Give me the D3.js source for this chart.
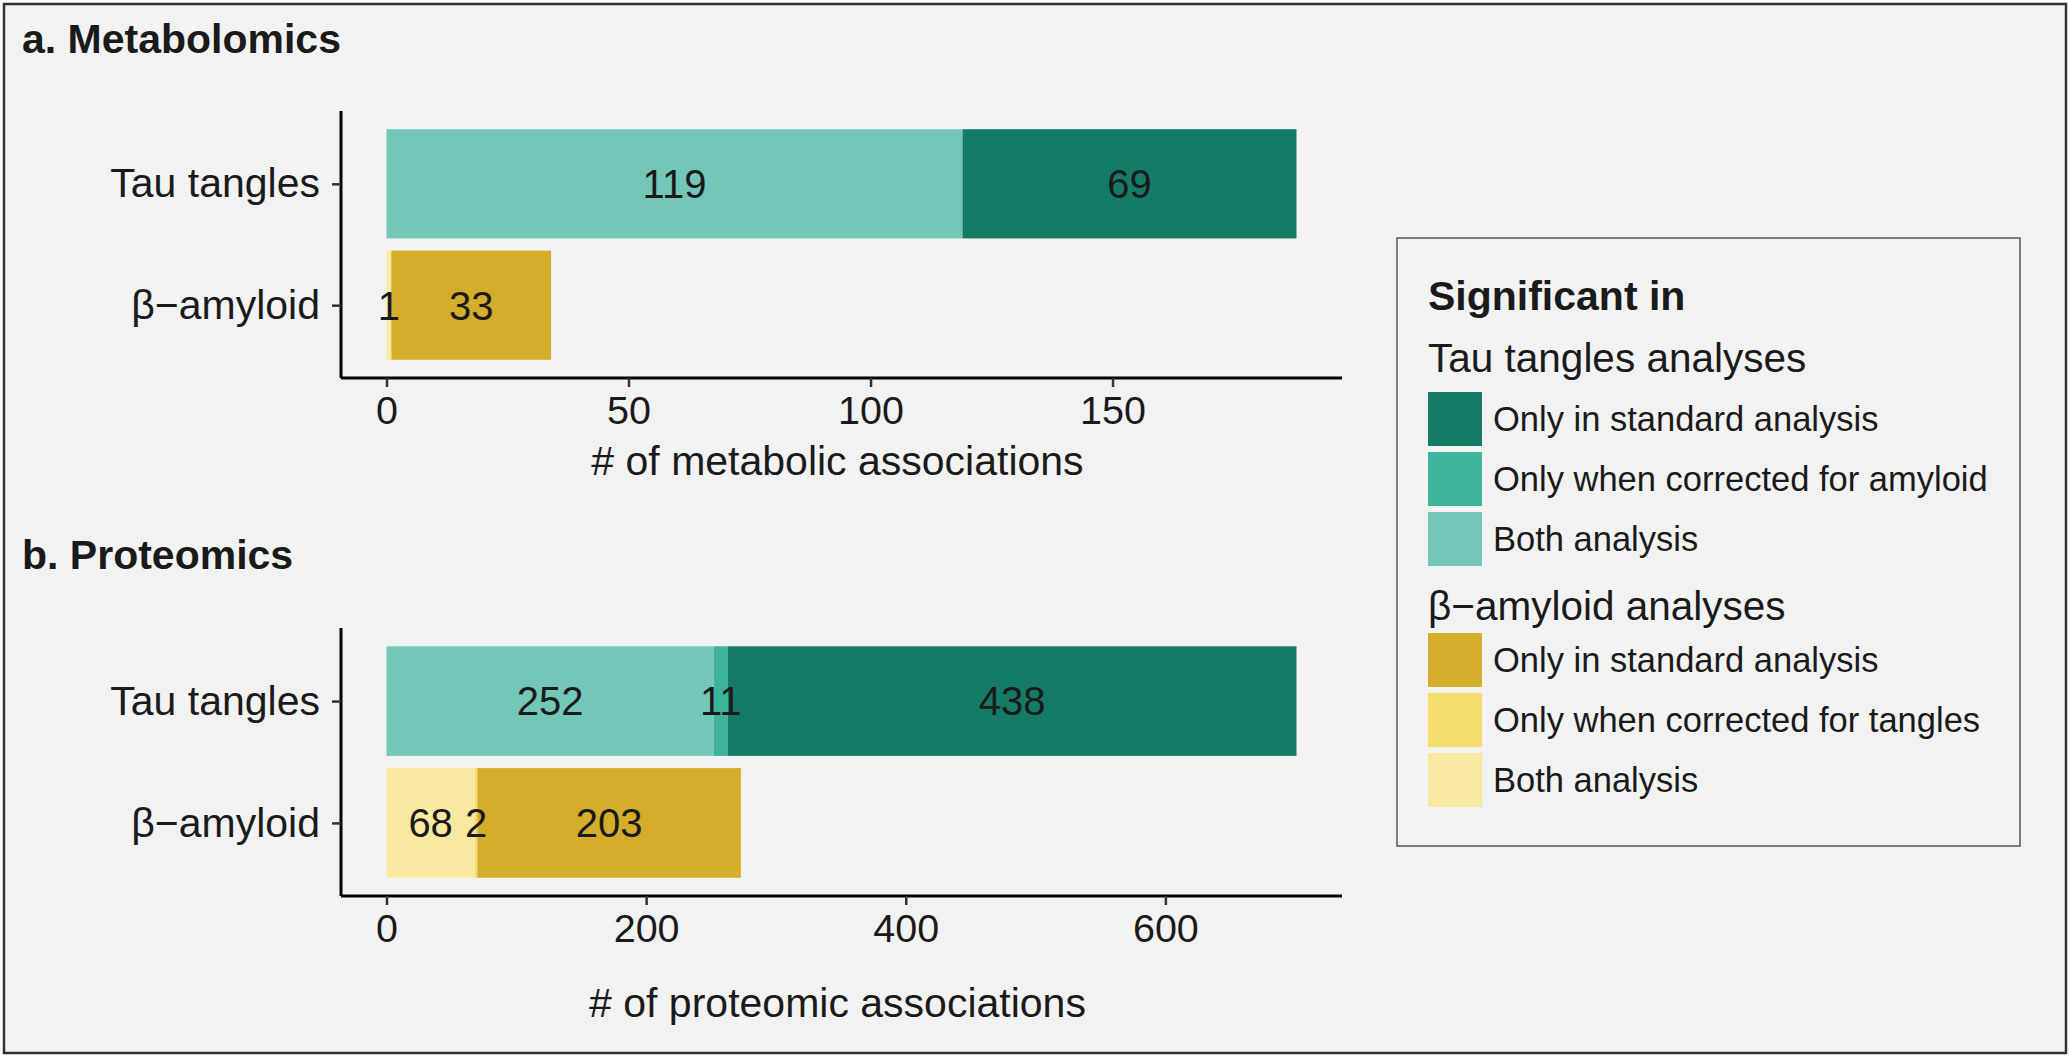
<!DOCTYPE html>
<html>
<head>
<meta charset="utf-8">
<script src="https://cdn.jsdelivr.net/npm/d3@7"></script>
<style>
body { margin: 0; background: #ffffff; }
text { font-family: "Liberation Sans", Arial, Helvetica, sans-serif; fill: #1a1a1a; }
</style>
</head>
<body>
<script>

var categories = ["Tau tangles", "β−amyloid"];
var groups = ["both", "corrected", "standard"];

// metabolomics counts, per category: both, corrected only, standard only
var metaTau = [119, 0, 69];
var metaAmyloid = [1, 0, 33];

// proteomics counts
var protTau = [252, 11, 438];
var protAmyloid = [68, 2, 203];

var metaTicks = [0, 50, 100, 150];
var protTicks = [0, 200, 400, 600];

var tauColors = ["#74c7b8", "#3db59c", "#167b66"];
var amyloidColors = ["#f8e8a0", "#f5dc6c", "#d4ad2a"];

var tauLegend = ["Only in standard analysis", "Only when corrected for amyloid", "Both analysis"];
var amyloidLegend = ["Only in standard analysis", "Only when corrected for tangles", "Both analysis"];

var width = 2070;
var height = 1057;

var svg = d3.select("body")
	.append("svg")
	.attr("width", width)
	.attr("height", height);

svg.append("rect")
	.attr("x", 4)
	.attr("y", 4)
	.attr("width", width - 8)
	.attr("height", height - 8)
	.attr("fill", "#f2f2f2")
	.attr("stroke", "#333333")
	.attr("stroke-width", 2.5);

var drawPanel = function(title, titleY, tau, amyloid, ticks, axisTitle, top, bottom, axisTitleY) {
	var left = 341, right = 1342;
	var maxTotal = d3.max([d3.sum(tau), d3.sum(amyloid)]);
	var pad = maxTotal * 0.05;
	var x = d3.scaleLinear().domain([-pad, maxTotal + pad]).range([left, right]);
	var y = d3.scalePoint().domain(categories).range([top, bottom]).padding(0.6);
	var barH = y.step() * 0.9;

	svg.append("text")
		.attr("x", 22)
		.attr("y", titleY)
		.attr("font-size", "41px")
		.attr("font-weight", "bold")
		.text(title);

	var rows = [
		{cat: categories[0], vals: tau, colors: tauColors},
		{cat: categories[1], vals: amyloid, colors: amyloidColors}
	];

	rows.forEach(function(row) {
		var start = 0;
		var segs = row.vals.map(function(v, i) {
			var s = {x0: start, x1: start + v, v: v, color: row.colors[i]};
			start += v;
			return s;
		});
		var g = svg.append("g");
		g.selectAll("rect")
			.data(segs.filter((d) => d.v > 0))
			.enter()
			.append("rect")
			.attr("x", (d) => x(d.x0))
			.attr("width", (d) => x(d.x1) - x(d.x0))
			.attr("y", y(row.cat) - barH / 2)
			.attr("height", barH)
			.attr("fill", (d) => d.color);
		g.selectAll("text")
			.data(segs.filter((d) => d.v > 0))
			.enter()
			.append("text")
			.attr("x", (d) => x((d.x0 + d.x1) / 2))
			.attr("y", y(row.cat))
			.attr("dy", "0.36em")
			.attr("text-anchor", "middle")
			.attr("font-size", "40px")
			.text((d) => d.v);
	});

	var xAxis = svg.append("g")
		.attr("transform", "translate(0," + bottom + ")")
		.call(d3.axisBottom(x).tickValues(ticks).tickSize(9).tickPadding(9).tickFormat(d3.format("d")));
	xAxis.select(".domain").attr("d", "M" + left + ",0H" + right).attr("stroke", "#000").attr("stroke-width", 3);
	xAxis.selectAll(".tick line").attr("stroke", "#333").attr("stroke-width", 2.5);
	xAxis.selectAll(".tick text").attr("font-size", "39.5px").attr("fill", "#1a1a1a")
		.attr("font-family", "Liberation Sans, Arial, sans-serif");

	var yAxis = svg.append("g")
		.attr("transform", "translate(" + left + ",0)")
		.call(d3.axisLeft(y).tickSize(9).tickPadding(12));
	yAxis.select(".domain").attr("d", "M0," + top + "V" + bottom).attr("stroke", "#000").attr("stroke-width", 3);
	yAxis.selectAll(".tick line").attr("stroke", "#333").attr("stroke-width", 2.5);
	yAxis.selectAll(".tick text").attr("font-size", "41px").attr("fill", "#1a1a1a")
		.attr("font-family", "Liberation Sans, Arial, sans-serif");

	svg.append("text")
		.attr("x", (left + right) / 2 - 4)
		.attr("y", axisTitleY)
		.attr("text-anchor", "middle")
		.attr("font-size", "41px")
		.text(axisTitle);
}

drawPanel("a. Metabolomics", 53, metaTau, metaAmyloid, metaTicks, "# of metabolic associations", 111, 378, 475);
drawPanel("b. Proteomics", 569, protTau, protAmyloid, protTicks, "# of proteomic associations", 628, 896, 1017);

// legend
var legend = svg.append("g");
legend.append("rect")
	.attr("x", 1397)
	.attr("y", 238)
	.attr("width", 623)
	.attr("height", 608)
	.attr("fill", "#f2f2f2")
	.attr("stroke", "#555555")
	.attr("stroke-width", 1.5);

legend.append("text")
	.attr("x", 1428)
	.attr("y", 310)
	.attr("font-size", "41px")
	.attr("font-weight", "bold")
	.text("Significant in");

var drawLegendGroup = function(heading, headingY, labels, colors, firstY) {
	legend.append("text")
		.attr("x", 1428)
		.attr("y", headingY)
		.attr("font-size", "40.5px")
		.text(heading);
	var reversed = colors.slice().reverse();
	labels.forEach(function(label, i) {
		legend.append("rect")
			.attr("x", 1428)
			.attr("y", firstY + i * 60)
			.attr("width", 54)
			.attr("height", 54)
			.attr("fill", reversed[i]);
		legend.append("text")
			.attr("x", 1493)
			.attr("y", firstY + i * 60 + 27)
			.attr("dy", "0.36em")
			.attr("font-size", "34.5px")
			.text(label);
	});
}

drawLegendGroup("Tau tangles analyses", 372, tauLegend, tauColors, 392);
drawLegendGroup("β−amyloid analyses", 620, amyloidLegend, amyloidColors, 633);

</script>
</body>
</html>
